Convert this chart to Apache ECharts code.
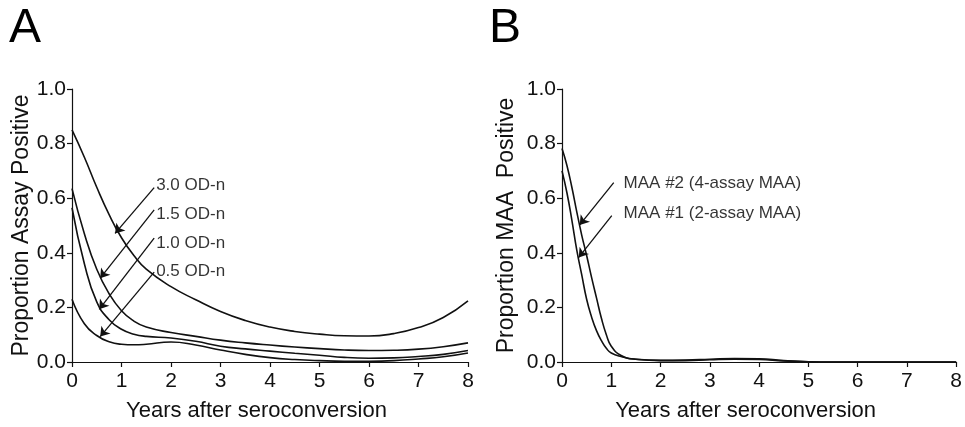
<!DOCTYPE html>
<html>
<head>
<meta charset="utf-8">
<script src="https://cdn.jsdelivr.net/npm/echarts@6/dist/echarts.min.js"></script>
<style>
  html, body { margin: 0; padding: 0; background: #fff; }
  #chart { width: 965px; height: 427px; }
</style>
</head>
<body>
<div id="chart"></div>
<script>
// ---------- Data ----------
var xTicks = [0, 1, 2, 3, 4, 5, 6, 7, 8];
var yTicks = [0.0, 0.2, 0.4, 0.6, 0.8, 1.0];

// Panel A: years after seroconversion
var yearsA = [0, 0.25, 0.5, 0.75, 1, 1.25, 1.5, 2, 2.5, 3, 3.5, 4, 4.5, 5, 5.5, 6, 6.5, 7, 7.5, 8];
var od30 = [0.85, 0.75, 0.64, 0.54, 0.455, 0.39, 0.34, 0.276, 0.228, 0.185, 0.152, 0.128, 0.112, 0.102, 0.096, 0.095, 0.104, 0.126, 0.163, 0.224];
var od15 = [0.635, 0.47, 0.34, 0.25, 0.188, 0.15, 0.128, 0.108, 0.094, 0.08, 0.07, 0.062, 0.055, 0.049, 0.044, 0.042, 0.043, 0.047, 0.056, 0.07];
var od10 = [0.565, 0.36, 0.22, 0.155, 0.12, 0.102, 0.094, 0.088, 0.076, 0.058, 0.048, 0.04, 0.032, 0.025, 0.017, 0.014, 0.015, 0.02, 0.028, 0.042];
var od05 = [0.23, 0.14, 0.097, 0.074, 0.065, 0.063, 0.065, 0.073, 0.062, 0.044, 0.028, 0.016, 0.009, 0.005, 0.003, 0.003, 0.005, 0.011, 0.019, 0.033];

// Panel B
var yearsB = [0, 0.1, 0.2, 0.3, 0.4, 0.5, 0.6, 0.7, 0.8, 0.9, 1.0, 1.2, 1.5, 2, 2.5, 3, 3.5, 4, 4.5, 5, 5.5, 6, 7, 8];
var maa2 = [0.782, 0.72, 0.64, 0.55, 0.465, 0.39, 0.31, 0.235, 0.16, 0.1, 0.058, 0.024, 0.01, 0.006, 0.007, 0.01, 0.013, 0.012, 0.005, 0.001, 0, 0, 0, 0];
var maa1 = [0.70, 0.62, 0.52, 0.41, 0.32, 0.23, 0.165, 0.115, 0.078, 0.05, 0.033, 0.02, 0.01, 0.005, 0.005, 0.008, 0.01, 0.009, 0.004, 0.001, 0, 0, 0, 0];

// Annotation texts and anchor points (data coordinates)
var labelsA = ['3.0 OD-n', '1.5 OD-n', '1.0 OD-n', '0.5 OD-n'];
var labelAtA = [[1.70, 0.647], [1.70, 0.540], [1.70, 0.436], [1.70, 0.333]];
var arrowFromA = [[1.66, 0.639], [1.66, 0.557], [1.66, 0.454], [1.66, 0.329]];
var arrowToA = [[0.87, 0.471], [0.57, 0.307], [0.55, 0.193], [0.57, 0.093]];

var labelsB = ['MAA #2 (4-assay MAA)', 'MAA #1 (2-assay MAA)'];
var labelAtB = [[1.25, 0.655], [1.25, 0.546]];
var arrowFromB = [[1.05, 0.657], [1.01, 0.536]];
var arrowToB = [[0.36, 0.502], [0.34, 0.383]];

// ---------- Chart ----------
var FONT = 'Liberation Sans, Arial, Helvetica, sans-serif';
var INK = '#111';

function pairs(xs, ys) { return xs.map(function (x, i) { return [x, ys[i]]; }); }
function arrows(from, to) {
  return from.map(function (f, i) { return [{ coord: f }, { coord: to[i] }]; });
}
function labelData(pos, texts) {
  return pos.map(function (p, i) { return { value: [p[0], p[1]], name: texts[i] }; });
}

function xAxis(idx) {
  return {
    gridIndex: idx, type: 'value', min: 0, max: 8, interval: 1,
    name: 'Years after seroconversion', nameLocation: 'middle', nameGap: 38,
    nameTextStyle: { fontFamily: FONT, fontSize: 22, color: INK, padding: [0, 27, 0, 0] },
    axisLine: { show: true, onZero: false, lineStyle: { color: INK, width: 1.2 } },
    axisTick: { show: true, inside: false, length: 5, lineStyle: { color: INK, width: 1.2 } },
    axisLabel: { fontFamily: FONT, fontSize: 21, color: INK, margin: 9 },
    splitLine: { show: false }
  };
}
function yAxis(idx, name, gap) {
  return {
    gridIndex: idx, type: 'value', min: 0, max: 1, interval: 0.2,
    name: name, nameLocation: 'middle', nameGap: gap,
    nameTextStyle: { fontFamily: FONT, fontSize: 23, color: INK },
    axisLine: { show: true, onZero: false, lineStyle: { color: INK, width: 1.2 } },
    axisTick: { show: true, inside: false, length: 5, lineStyle: { color: INK, width: 1.2 } },
    axisLabel: { fontFamily: FONT, fontSize: 21, color: INK, margin: 6,
      formatter: function (v) { return v.toFixed(1); } },
    splitLine: { show: false }
  };
}
function curve(idx, data) {
  return {
    type: 'line', xAxisIndex: idx, yAxisIndex: idx, data: data,
    smooth: 0.5, showSymbol: false, symbol: 'none', silent: true,
    lineStyle: { color: INK, width: 1.6 }
  };
}
function arrowSeries(idx, from, to) {
  return {
    type: 'line', xAxisIndex: idx, yAxisIndex: idx, data: [], silent: true,
    markLine: {
      silent: true, animation: false,
      symbol: ['none', 'arrow'], symbolSize: 9,
      label: { show: false },
      lineStyle: { color: INK, width: 1.3, type: 'solid' },
      data: arrows(from, to)
    }
  };
}
function textSeries(idx, pos, texts) {
  return {
    type: 'scatter', xAxisIndex: idx, yAxisIndex: idx, silent: true,
    symbolSize: 0, data: labelData(pos, texts),
    label: { show: true, position: 'right', distance: 0, formatter: '{b}',
      fontFamily: FONT, fontSize: 17, color: '#000' }
  };
}

var chart = echarts.init(document.getElementById('chart'), null, { renderer: 'canvas' });
chart.setOption({
  animation: false,
  backgroundColor: '#fff',
  title: [
    { text: 'A', left: 4, top: 0, textStyle: { fontFamily: FONT, fontSize: 48, fontWeight: 'normal', color: '#000' } },
    { text: 'B', left: 484, top: 0, textStyle: { fontFamily: FONT, fontSize: 48, fontWeight: 'normal', color: '#000' } }
  ],
  grid: [
    { left: 72, right: 497, top: 89, bottom: 58, containLabel: false },
    { left: 562, right: 5, top: 89, bottom: 58, containLabel: false }
  ],
  xAxis: [xAxis(0), xAxis(1)],
  yAxis: [yAxis(0, 'Proportion Assay Positive', 37), yAxis(1, 'Proportion MAA  Positive', 44)],
  series: [
    curve(0, pairs(yearsA, od30)),
    curve(0, pairs(yearsA, od15)),
    curve(0, pairs(yearsA, od10)),
    curve(0, pairs(yearsA, od05)),
    arrowSeries(0, arrowFromA, arrowToA),
    textSeries(0, labelAtA, labelsA),
    curve(1, pairs(yearsB, maa2)),
    curve(1, pairs(yearsB, maa1)),
    arrowSeries(1, arrowFromB, arrowToB),
    textSeries(1, labelAtB, labelsB)
  ]
});
</script>
</body>
</html>
